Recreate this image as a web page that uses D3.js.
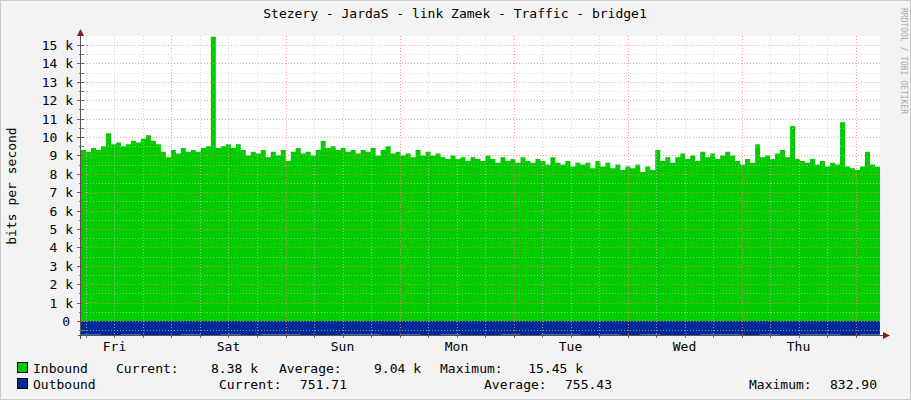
<!DOCTYPE html>
<html><head><meta charset="utf-8">
<script src="https://cdn.jsdelivr.net/npm/d3@7/dist/d3.min.js"></script>
<style>body{margin:0;background:#f3f3f3}svg{display:block}text{font-family:"DejaVu Sans Mono",monospace}</style>
</head><body><svg id="c" width="911" height="400"></svg>
<script>
const inbound=[9.3,9.2,9.4,9.3,9.5,10.2,9.6,9.7,9.5,9.6,9.8,9.7,9.9,10.1,9.8,9.6,9.2,8.9,9.3,9.1,
9.4,9.2,9.3,9.2,9.4,9.5,15.45,9.4,9.5,9.6,9.4,9.6,9.3,9.0,9.2,9.1,9.3,8.9,9.2,9.0,
9.3,8.7,9.2,9.4,9.1,9.2,9.0,9.3,9.8,9.4,9.5,9.3,9.4,9.2,9.3,9.1,9.3,9.2,9.4,9.0,
9.3,9.5,9.1,9.2,9.0,9.1,8.9,9.3,9.0,9.2,9.0,9.1,8.9,8.8,9.0,8.8,8.9,8.7,8.9,8.8,
8.7,9.0,8.8,8.6,8.9,8.7,8.8,8.6,8.9,8.7,8.6,8.8,8.7,8.5,8.9,8.6,8.5,8.7,8.4,8.6,
8.5,8.6,8.3,8.7,8.4,8.6,8.3,8.5,8.2,8.4,8.3,8.5,8.1,8.4,8.2,9.3,8.7,8.9,8.6,8.9,
9.1,8.8,9.0,8.7,9.2,8.9,9.1,8.8,9.0,9.2,9.0,8.7,8.5,8.8,8.6,9.6,8.9,9.0,8.8,9.1,
9.3,8.9,10.6,8.8,8.7,8.6,8.8,8.5,8.7,8.4,8.6,8.5,10.8,8.4,8.3,8.2,8.4,9.2,8.5,8.38];
const outbound=[752,760,748,755,758,750,762,745,756,753,749,757,761,754,747,759,752,755,750,758,
756,751,763,748,754,757,752,759,746,755,760,753,749,756,752,758,754,750,757,751.71];
const yTicks=[0,1,2,3,4,5,6,7,8,9,10,11,12,13,14,15];
const days=["Fri","Sat","Sun","Mon","Tue","Wed","Thu"];
const legendIn=["Inbound","Current:","8.38 k","Average:","9.04 k","Maximum:","15.45 k"];
const legendOut=["Outbound","Current:","751.71","Average:","755.43","Maximum:","832.90"];

const svg=d3.select("#c");
const H=3600e3;
const t0=Date.UTC(2024,2,1,4,57), t1=t0+168.2*H;
const x=d3.scaleUtc().domain([t0,t1]).range([81,880]);
const y=d3.scaleLinear().domain([-0.755*1.0,15]).range([335,45]);
// use real zero at 321
y.domain([(321-335)/((321-45)/15),15]);
svg.append("rect").attr("x",0.5).attr("y",0.5).attr("width",910).attr("height",399).attr("fill","#f3f3f3").attr("stroke","#c9c9c9");
svg.append("rect").attr("x",81).attr("y",36).attr("width",799).attr("height",299).attr("fill","#fff");
// areas
const stepIn=(t1-t0)/inbound.length, stepOut=(t1-t0)/outbound.length;
const inPts=inbound.map((v,i)=>[t0+i*stepIn,v]); inPts.push([t1,inbound[inbound.length-1]]);
const outPts=outbound.map((v,i)=>[t0+i*stepOut,-v/1000]); outPts.push([t1,-outbound[outbound.length-1]/1000]);
svg.append("path").datum(inPts).attr("fill","#00cc00")
 .attr("d",d3.area().curve(d3.curveStepAfter).x(d=>x(d[0])).y0(y(0)).y1(d=>y(d[1])));
svg.append("path").datum(outPts).attr("fill","#002a97")
 .attr("d",d3.area().curve(d3.curveStepAfter).x(d=>x(d[0])).y0(y(0)).y1(d=>y(d[1])));
// grid
const g=svg.append("g");
for(let h=0;h<=170;h+=6){const t=Date.UTC(2024,2,1,0)+h*H; if(t<t0||t>t1)continue;
 const major=h%24===0;
 g.append("line").attr("x1",Math.round(x(t))+0.5).attr("x2",Math.round(x(t))+0.5).attr("y1",36).attr("y2",335)
 .attr("stroke",major?"#ff8080":"#c8c8c8").attr("stroke-opacity",major?0.8:0.7).attr("stroke-dasharray","1,2");
 g.append("line").attr("x1",Math.round(x(t))+0.5).attr("x2",Math.round(x(t))+0.5).attr("y1",major?333:335).attr("y2",338)
 .attr("stroke",major?"#c04040":"#777");}
for(let v=-0.5;v<=15.01;v+=0.5){const major=Math.abs(v-Math.round(v))<0.01;
 g.append("line").attr("x1",81).attr("x2",880).attr("y1",Math.round(y(v))+0.5).attr("y2",Math.round(y(v))+0.5)
 .attr("stroke",major?"#ff8080":"#c8c8c8").attr("stroke-opacity",major?0.8:0.7).attr("stroke-dasharray","1,2");
 g.append("line").attr("x1",major?77:79).attr("x2",84).attr("y1",Math.round(y(v))+0.5).attr("y2",Math.round(y(v))+0.5).attr("stroke",major?"#c04040":"#777");}
// axes
svg.append("line").attr("x1",80.5).attr("x2",80.5).attr("y1",33).attr("y2",339).attr("stroke","#555");
svg.append("line").attr("x1",78).attr("x2",884).attr("y1",335.5).attr("y2",335.5).attr("stroke","#555");
svg.append("path").attr("d","M77,36L80.5,29L84,36Z").attr("fill","#8b1a1a");
svg.append("path").attr("d","M883,332L890,335.5L883,339Z").attr("fill","#8b1a1a");
yTicks.forEach(v=>svg.append("text").attr("x",v===0?70:73).attr("y",y(v)+5).attr("text-anchor","end")
 .attr("font-size",13).attr("fill","#000").text(v===0?"0":v+" k"));
days.forEach((d,i)=>svg.append("text").attr("x",x(Date.UTC(2024,2,1+i,12))).attr("y",351).attr("text-anchor","middle")
 .attr("font-size",13).text(d));
svg.append("text").attr("x",455).attr("y",18).attr("text-anchor","middle").attr("font-size",13).text("Stezery - JardaS - link Zamek - Traffic - bridge1");
svg.append("text").attr("transform","translate(16,186) rotate(-90)").attr("text-anchor","middle").attr("font-size",13).text("bits per second");
svg.append("text").attr("transform","translate(901,8) rotate(90)").attr("font-size",8).attr("fill","#aaa").text("RRDTOOL / TOBI OETIKER");
svg.append("rect").attr("x",17.5).attr("y",362.5).attr("width",10).attr("height",10).attr("fill","#00cc00").attr("stroke","#000");
svg.append("rect").attr("x",17.5).attr("y",378.5).attr("width",10).attr("height",10).attr("fill","#002a97").attr("stroke","#000");
const fs=13;
const inX=[[33,"start"],[116,"start"],[258,"end"],[279,"start"],[421,"end"],[440,"start"],[583,"end"]];
legendIn.forEach((s,i)=>svg.append("text").attr("x",inX[i][0]).attr("y",373).attr("text-anchor",inX[i][1]).attr("font-size",fs).text(s));
const outX=[[33,"start"],[219,"start"],[347,"end"],[484,"start"],[612,"end"],[749,"start"],[877,"end"]];
legendOut.forEach((s,i)=>svg.append("text").attr("x",outX[i][0]).attr("y",389).attr("text-anchor",outX[i][1]).attr("font-size",fs).text(s));
</script></body></html>
